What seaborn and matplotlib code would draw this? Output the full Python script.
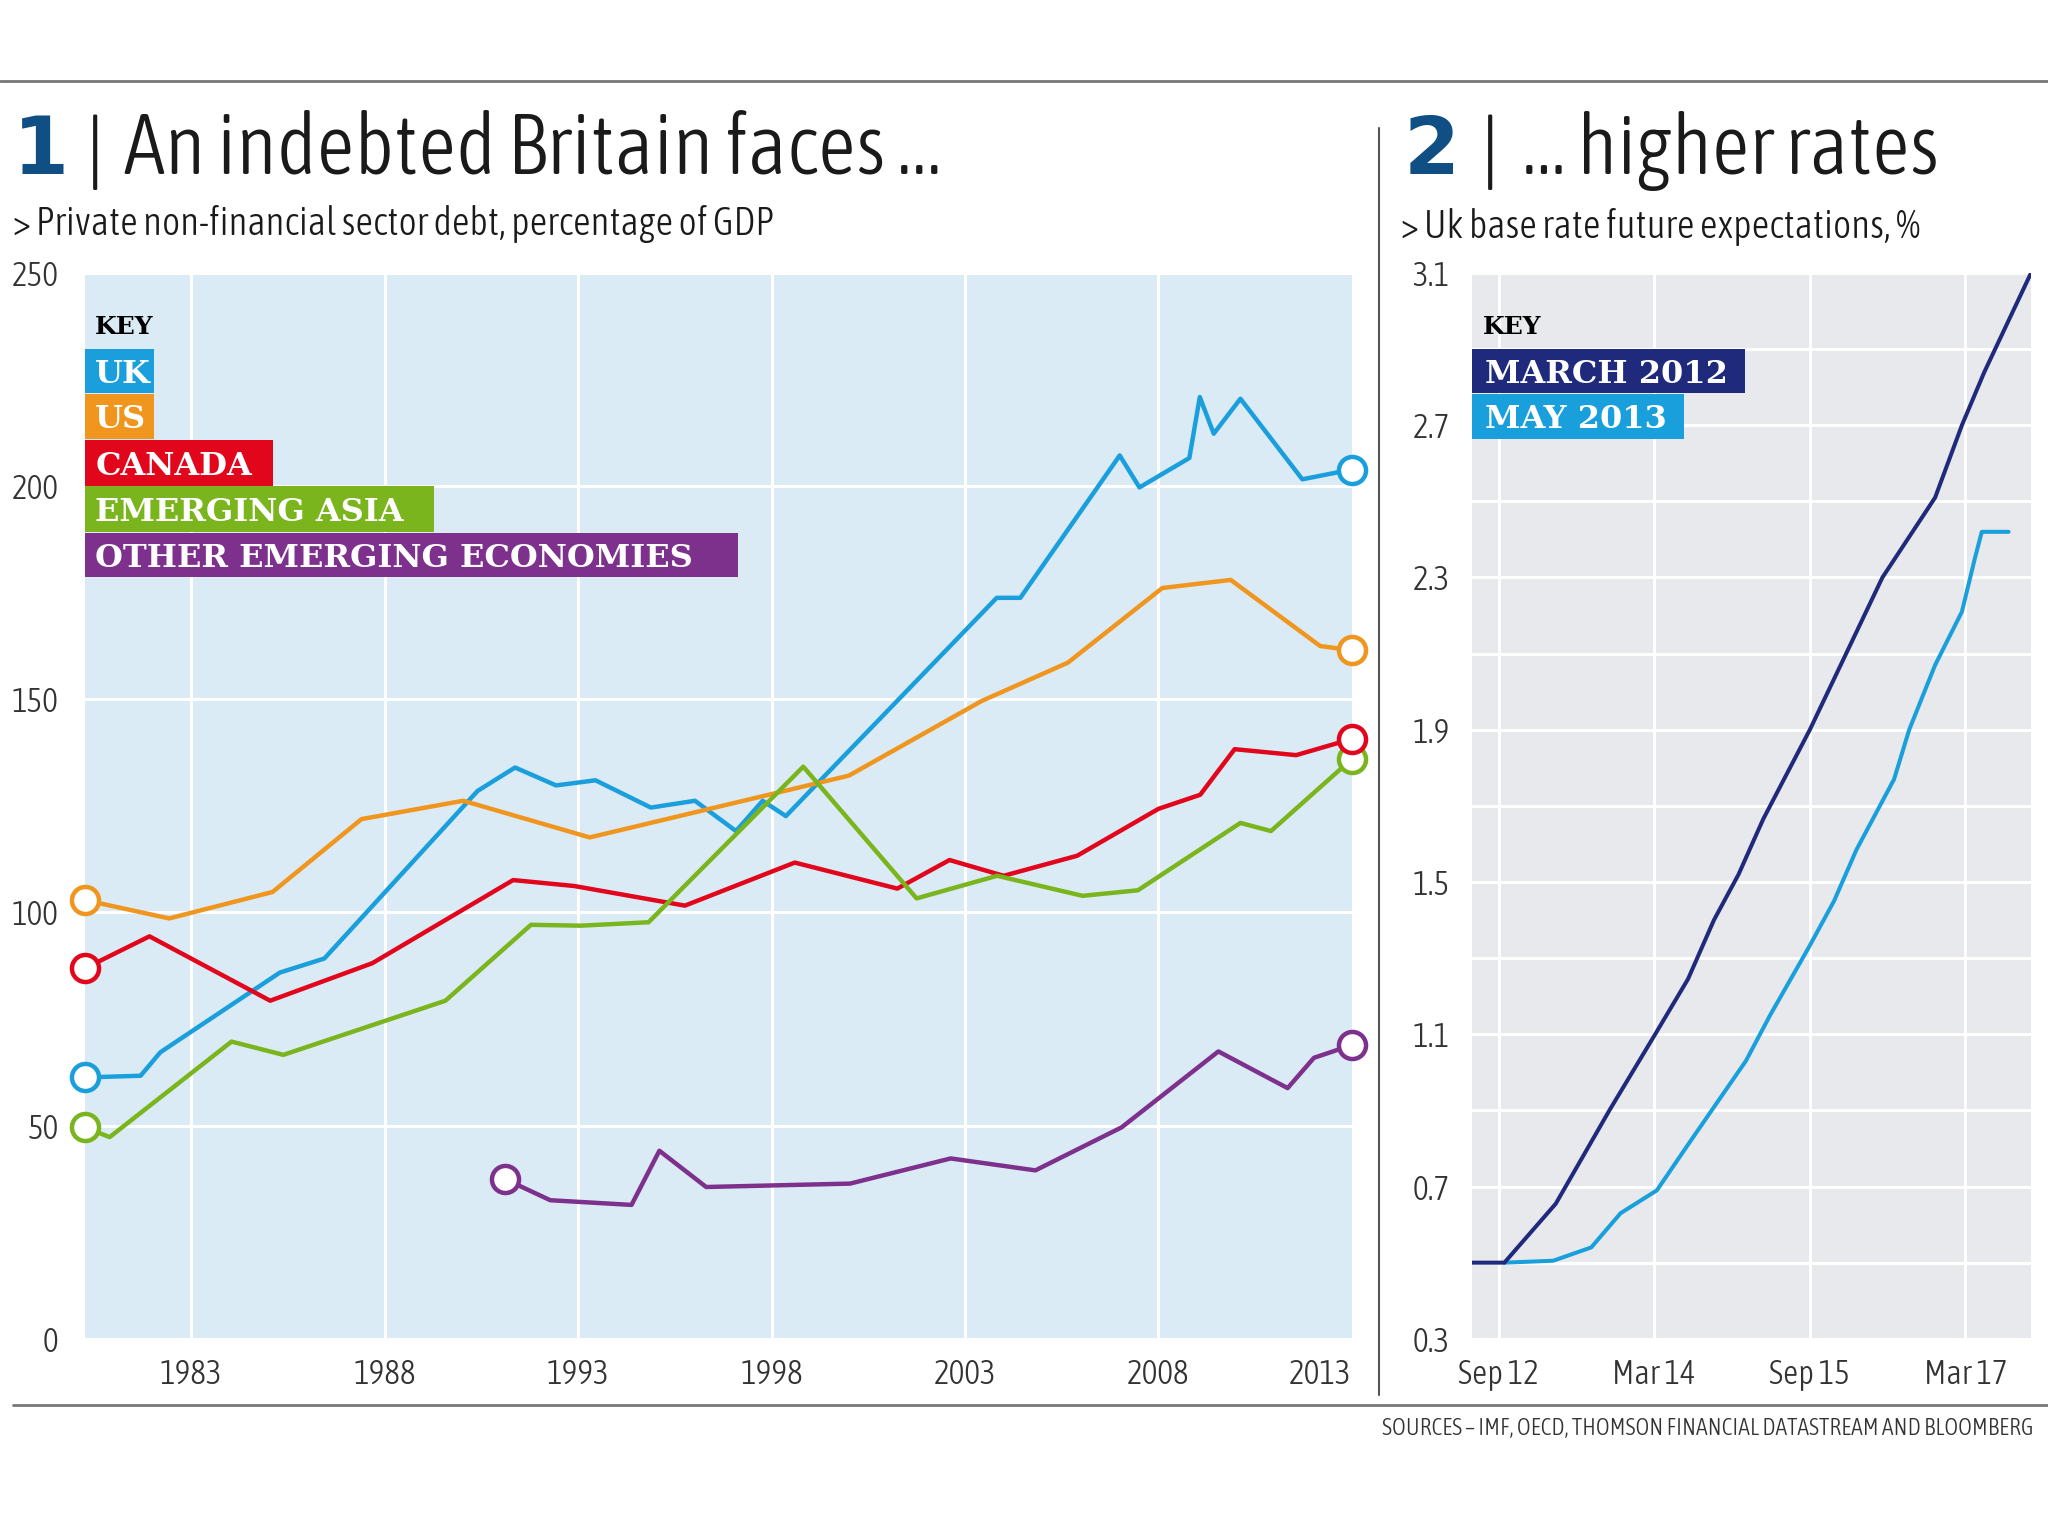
import os
import re
import matplotlib
matplotlib.use("Agg")
import matplotlib.pyplot as plt
import matplotlib.font_manager as fm
import seaborn as sns
import pandas as pd
from matplotlib.patches import Rectangle
from matplotlib.lines import Line2D

# ---- chart 1: private non-financial sector debt, % of GDP ----
uk_year = [1980.25, 1981.69, 1982.2, 1985.29, 1986.44, 1990.4, 1991.37, 1992.43, 1993.45,
           1994.88, 1996.02, 1997.08, 1997.77, 1998.37, 2003.82, 2004.43, 2007.0, 2007.51,
           2008.8, 2009.07, 2009.43, 2010.12, 2011.72, 2013.0]
uk_val = [61.3, 61.7, 67.2, 85.9, 89.2, 128.5, 134.0, 129.8, 131.0,
          124.6, 126.2, 119.1, 126.2, 122.6, 173.8, 173.8, 207.2, 199.7,
          206.6, 220.9, 212.3, 220.5, 201.6, 203.9]

us_year = [1980.25, 1982.43, 1985.1, 1987.4, 1990.03, 1993.3, 2000.0, 2003.43, 2005.66,
           2008.1, 2009.87, 2012.18, 2013.0]
us_val = [102.9, 98.6, 104.8, 121.9, 126.2, 117.6, 132.1, 149.6, 158.6,
          176.1, 178.0, 162.5, 161.5]

canada_year = [1980.25, 1981.92, 1985.04, 1987.68, 1991.32, 1992.9, 1995.76, 1998.6, 2001.25,
               2002.6, 2004.0, 2005.9, 2008.0, 2009.08, 2009.97, 2011.56, 2013.0]
canada_val = [86.9, 94.4, 79.3, 88.1, 107.6, 106.2, 101.6, 111.7, 105.6,
              112.3, 108.6, 113.3, 124.3, 127.6, 138.3, 136.9, 140.7]

asia_year = [1980.25, 1980.89, 1984.04, 1985.38, 1989.57, 1991.78, 1993.07, 1994.82, 1998.82,
             2001.75, 2003.83, 2006.04, 2007.47, 2010.12, 2010.91, 2013.0]
asia_val = [49.6, 47.3, 69.7, 66.6, 79.3, 97.1, 96.9, 97.7, 134.2,
            103.3, 108.6, 103.9, 105.2, 121.0, 119.1, 136.0]

other_year = [1991.1, 1992.28, 1994.38, 1995.1, 1996.31, 2000.03, 2002.63, 2004.82, 2007.05,
              2009.55, 2011.34, 2012.02, 2013.0]
other_val = [37.5, 32.5, 31.4, 44.1, 35.6, 36.4, 42.3, 39.5, 49.6,
             67.4, 58.8, 65.9, 68.9]

debt_names = ["UK", "US", "CANADA", "EMERGING ASIA", "OTHER EMERGING ECONOMIES"]
debt_colors = ["#1a9fdc", "#f0961e", "#e2061c", "#7ab51d", "#7d318c"]
year_ticks = [1983, 1988, 1993, 1998, 2003, 2008, 2013]
debt_ticks = [0, 50, 100, 150, 200, 250]

# ---- chart 2: UK base rate expectations, % (x = months since Sep 2012) ----
mar12_month = [-3.1, 0.65, 6.6, 12.8, 18.1, 21.9, 24.9, 27.75, 30.6, 36.0, 44.4, 50.5,
               53.6, 56.2, 61.6]
mar12_rate = [0.5, 0.5, 0.655, 0.90, 1.10, 1.245, 1.40, 1.52, 1.665, 1.90, 2.30, 2.51,
              2.70, 2.84, 3.1]
may13_month = [0.65, 6.3, 10.7, 14.1, 18.3, 21.9, 25.4, 28.6, 31.4, 35.8, 38.8, 41.4,
               45.75, 47.5, 50.5, 53.6, 55.1, 55.9, 59.0]
may13_rate = [0.5, 0.505, 0.54, 0.63, 0.69, 0.81, 0.925, 1.03, 1.15, 1.325, 1.45, 1.585,
              1.77, 1.90, 2.07, 2.21, 2.35, 2.42, 2.42]

rate_names = ["MARCH 2012", "MAY 2013"]
rate_colors = ["#1f2a7c", "#19a0dc"]
month_ticks = [0, 18, 36, 54]
month_labels = ["Sep 12", "Mar 14", "Sep 15", "Mar 17"]
rate_ticks = [0.3, 0.7, 1.1, 1.5, 1.9, 2.3, 2.7, 3.1]
rate_grid = [0.5, 0.9, 1.3, 1.7, 2.1, 2.5, 2.9]

debt = pd.concat([
    pd.DataFrame({"year": uk_year, "value": uk_val, "series": "UK"}),
    pd.DataFrame({"year": us_year, "value": us_val, "series": "US"}),
    pd.DataFrame({"year": canada_year, "value": canada_val, "series": "CANADA"}),
    pd.DataFrame({"year": asia_year, "value": asia_val, "series": "EMERGING ASIA"}),
    pd.DataFrame({"year": other_year, "value": other_val, "series": "OTHER EMERGING ECONOMIES"}),
], ignore_index=True)
rates = pd.concat([
    pd.DataFrame({"month": may13_month, "rate": may13_rate, "series": "MAY 2013"}),
    pd.DataFrame({"month": mar12_month, "rate": mar12_rate, "series": "MARCH 2012"}),
], ignore_index=True)


def pick_narrow():
    # look for a condensed / narrow sans face among the installed fonts
    cands = []
    for f in fm.fontManager.ttflist:
        key = (f.name + " " + os.path.basename(f.fname)).lower().replace("-", "").replace("_", "")
        if f.style != "normal":
            continue
        if not (re.search(r"narrow|condensed", key) or "condensed" in str(f.stretch)):
            continue
        if re.search(r"serif|mono|cjk|bold|black|medium|thin|extralight|ultra|extracondensed|display|italic", key):
            continue
        score = 0
        if "light" in key:
            score -= 2
        if "semicondensed" in key:
            score += 1
        cands.append((score, f.fname))
    cands.sort()
    return cands[0][1] if cands else None


sns.set_theme(style="darkgrid", rc={"axes.facecolor": "#e8e9ec", "grid.color": "white",
                                    "grid.linewidth": 2.2})
plt.rcParams["font.family"] = ["DejaVu Sans"]

narrow_file = pick_narrow()
if narrow_file:
    body_font = fm.FontProperties(fname=narrow_file)
else:
    body_font = fm.FontProperties(family="DejaVu Sans")

W, H = 1568, 1176  # layout grid used for placing things
K = 2048 / W


def fx(x):
    return x / W


def fy(y):
    return 1 - y / H


fig = plt.figure(figsize=(20.48, 15.36), dpi=100)
fig.patch.set_facecolor("white")
renderer = fig.canvas.get_renderer()


def fit_text(x, y, s, width, size, max_size=None, **kw):
    # text in the body face, sized to the reference width (within limits)
    fp = body_font.copy()
    fp.set_size(size)
    t = fig.text(fx(x), fy(y), s, fontproperties=fp, **kw)
    w = t.get_window_extent(renderer).width
    new = size * width * K / w
    new = min(new, max_size if max_size else size)
    fp.set_size(new)
    t.set_fontproperties(fp)
    return t


# tick label size so that "1983" is about as wide as in the reference
probe = fit_text(0, 0, "1983", 48, 24)
tick_size = probe.get_fontproperties().get_size()
probe.remove()
tick_fp = body_font.copy()
tick_fp.set_size(tick_size)

ax1 = fig.add_axes([fx(65), fy(1025), fx(1035) - fx(65), (1025 - 209) / H])
ax2 = fig.add_axes([fx(1127), fy(1025), fx(1555) - fx(1127), (1025 - 209) / H])
ax1.set_facecolor("#daebf6")

# chart 1 lines
pal1 = dict(zip(debt_names, debt_colors))
sns.lineplot(data=debt, x="year", y="value", hue="series", palette=pal1, estimator=None,
             sort=False, lw=3.2, legend=False, ax=ax1)
for name in ["UK", "US", "EMERGING ASIA", "CANADA", "OTHER EMERGING ECONOMIES"]:
    d = debt[debt["series"] == name]
    ends = d.iloc[[0, -1]]
    ax1.scatter(ends["year"], ends["value"], s=380, facecolor="white",
                edgecolor=pal1[name], linewidth=3.2, zorder=5, clip_on=False)

ax1.set_xlim(1980.25, 2013.0)
ax1.set_ylim(0, 250)
ax1.set_xticks(year_ticks)
ax1.set_xticklabels([str(y) for y in year_ticks])
ax1.set_yticks(debt_ticks)
ax1.set_yticklabels([str(v) for v in debt_ticks])
ax1.xaxis.get_gridlines()[-1].set_visible(False)
ax1.get_xticklabels()[-1].set_horizontalalignment("right")
ax1.tick_params(axis="y", length=0, pad=19, labelcolor="#333333")
ax1.tick_params(axis="x", length=0, pad=14, labelcolor="#333333")
ax1.set_xlabel("")
ax1.set_ylabel("")

# chart 2 lines
pal2 = dict(zip(rate_names, rate_colors))
sns.lineplot(data=rates, x="month", y="rate", hue="series", palette=pal2, estimator=None,
             sort=False, lw=2.9, legend=False, ax=ax2)
ax2.set_xlim(-3.1, 61.6)
ax2.set_ylim(0.3, 3.1)
ax2.set_xticks(month_ticks)
ax2.set_xticklabels(month_labels)
ax2.set_yticks(rate_ticks)
ax2.set_yticklabels([f"{v:.1f}" for v in rate_ticks])
ax2.set_yticks(rate_grid, minor=True)
ax2.grid(which="minor", axis="y", color="white", lw=2.2)
ax2.tick_params(axis="y", which="both", length=0, pad=16, labelcolor="#333333")
ax2.tick_params(axis="x", length=0, pad=14, labelcolor="#333333")
ax2.set_xlabel("")
ax2.set_ylabel("")

for ax in (ax1, ax2):
    for s in ax.spines.values():
        s.set_visible(False)
    for lab in ax.get_xticklabels() + ax.get_yticklabels():
        lab.set_fontproperties(tick_fp)

# rules
fig.add_artist(Line2D([0, 1], [fy(62), fy(62)], color="#777777", lw=2))
fig.add_artist(Line2D([fx(10), 1], [fy(1076), fy(1076)], color="#777777", lw=2))
fig.add_artist(Line2D([fx(1056), fx(1056)], [fy(98), fy(1068)], color="#555555", lw=1.5))

# titles
fig.text(fx(10), fy(133), "1", fontsize=58, fontweight="bold", color="#0f4f84",
         family="DejaVu Sans")
fit_text(73, 136, "|", 20, 59, ha="center", color="#1a1a1a")
fit_text(95, 133, "An indebted Britain faces ...", 627, 59, max_size=61, color="#1a1a1a")
fit_text(10, 180, "> Private non-financial sector debt, percentage of GDP", 594, 26,
         max_size=28, color="#1a1a1a")

fig.text(fx(1075), fy(133), "2", fontsize=58, fontweight="bold", color="#0f4f84",
         family="DejaVu Sans")
fit_text(1141, 136, "|", 20, 59, ha="center", color="#1a1a1a")
fit_text(1165, 133, "... higher rates", 320, 59, max_size=61, color="#1a1a1a")
fit_text(1073, 182, "> Uk base rate future expectations, %", 405, 26, max_size=28,
         color="#1a1a1a")

# keys
fig.text(fx(73), fy(256), "KEY", fontsize=18, fontweight="bold", family="DejaVu Serif",
         color="black")
fig.text(fx(1135), fy(256), "KEY", fontsize=18, fontweight="bold", family="DejaVu Serif",
         color="black")

key1 = [(118, 267, 301), (118, 302, 336), (209, 337, 372), (332, 372, 407), (565, 408, 442)]
for name, col, (x1, y0, y1) in zip(debt_names, debt_colors, key1):
    fig.add_artist(Rectangle((fx(65), fy(y1)), fx(x1) - fx(65), (y1 - y0) / H,
                             transform=fig.transFigure, color=col, lw=0))
    fig.text(fx(73), fy(y1 - 8), name, fontsize=23, fontweight="bold",
             family="DejaVu Serif", color="white")

key2 = [(1336, 267, 301), (1289, 302, 336)]
for name, col, (x1, y0, y1) in zip(rate_names, rate_colors, key2):
    fig.add_artist(Rectangle((fx(1127), fy(y1)), fx(x1) - fx(1127), (y1 - y0) / H,
                             transform=fig.transFigure, color=col, lw=0))
    fig.text(fx(1137), fy(y1 - 8), name, fontsize=23, fontweight="bold",
             family="DejaVu Serif", color="white")

fit_text(1557, 1099, "SOURCES \u2013 IMF, OECD, THOMSON FINANCIAL DATASTREAM AND BLOOMBERG",
         522, 15, max_size=17, ha="right", color="#333333")

fig.savefig("out.png", dpi=100, facecolor="white")
